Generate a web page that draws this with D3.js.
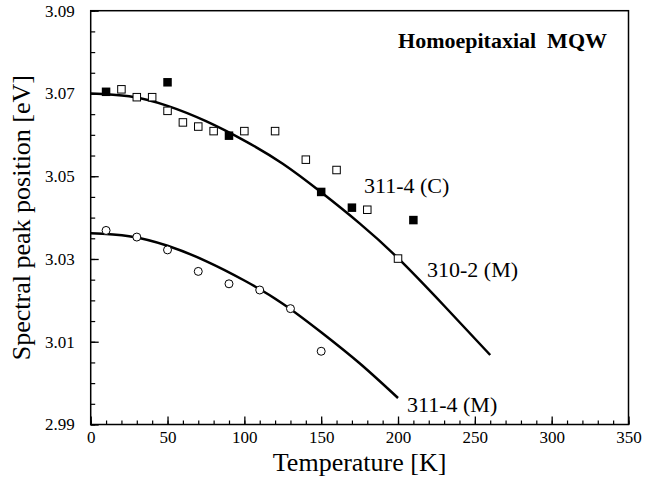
<!DOCTYPE html>
<html>
<head>
<meta charset="utf-8">
<script src="https://cdn.jsdelivr.net/npm/d3@7"></script>
<style>
  html, body { margin: 0; padding: 0; background: #fff; }
  svg { display: block; }
  text { font-family: "Liberation Serif", "Times New Roman", serif; fill: #000; }
</style>
</head>
<body>
<svg id="chart" width="652" height="486"></svg>
<script>
// Sample 311-4, CL measurements (filled squares)
const tempC = [10, 50, 90, 150, 170, 210];
const peakC = [3.0704, 3.0727, 3.0598, 3.0462, 3.0424, 3.0394];

// Sample 310-2, PL measurements (open squares)
const temp310 = [20, 30, 40, 50, 60, 70, 80, 100, 120, 140, 160, 180, 200];
const peak310 = [3.0710, 3.0691, 3.0691, 3.0658, 3.0630, 3.0620, 3.0609, 3.0609, 3.0609, 3.0540, 3.0515, 3.0419, 3.0301];

// Sample 311-4, PL measurements (open circles)
const temp311M = [10, 30, 50, 70, 90, 110, 130, 150];
const peak311M = [3.0369, 3.0353, 3.0322, 3.0270, 3.0240, 3.0225, 3.0180, 3.0077];

// Fitted temperature dependence, upper curve
const fitUpperT = [0, 25, 50, 75, 100, 125, 150, 175, 200, 230, 260];
const fitUpperE = [3.0700, 3.0693, 3.0670, 3.0633, 3.0586, 3.0530, 3.0461, 3.0386, 3.0302, 3.0187, 3.0068];

// Fitted temperature dependence, lower curve
const fitLowerT = [0, 25, 50, 75, 100, 125, 150, 175, 200];
const fitLowerE = [3.0362, 3.0355, 3.0332, 3.0295, 3.0248, 3.0192, 3.0123, 3.0048, 2.9964];

// Axis ticks
const xTicks = [0, 50, 100, 150, 200, 250, 300, 350];
const xMinorTicks = d3.range(0, 351, 10);
const yTicks = [2.99, 3.01, 3.03, 3.05, 3.07, 3.09];
const yTickLabels = ["2.99", "3.01", "3.03", "3.05", "3.07", "3.09"];
const yMinorTicks = d3.range(0, 21).map(i => 2.99 + i * 0.005);

const svg = d3.select("#chart");
const plotL = 90.7, plotR = 628.5, plotT = 10.7, plotB = 424.5;

const x = d3.scaleLinear().domain([0, 350]).range([plotL, plotR]);
const y = d3.scaleLinear().domain([2.99, 3.09]).range([plotB, plotT]);

// Minor ticks (inward, no labels)
svg.append("g")
  .attr("transform", `translate(0,${plotB})`)
  .call(d3.axisBottom(x).tickValues(xMinorTicks).tickSize(-4).tickFormat(""))
  .call(g => g.select(".domain").remove())
  .selectAll("line").attr("stroke", "#000").attr("stroke-width", 1.2);

svg.append("g")
  .attr("transform", `translate(${plotL},0)`)
  .call(d3.axisLeft(y).tickValues(yMinorTicks).tickSize(-4.5).tickFormat(""))
  .call(g => g.select(".domain").remove())
  .selectAll("line").attr("stroke", "#000").attr("stroke-width", 1.2);

// Major ticks with labels
const xAxis = svg.append("g")
  .attr("transform", `translate(0,${plotB})`)
  .call(d3.axisBottom(x).tickValues(xTicks).tickSize(-8).tickPadding(6).tickFormat(d3.format("d")));
xAxis.select(".domain").remove();
xAxis.selectAll("line").attr("stroke", "#000").attr("stroke-width", 1.3);
xAxis.selectAll("text")
  .attr("font-size", 17)
  .attr("font-family", "Liberation Serif, serif")
  .attr("fill", "#000");

const yAxis = svg.append("g")
  .attr("transform", `translate(${plotL},0)`)
  .call(d3.axisLeft(y).tickValues(yTicks).tickSize(-8).tickPadding(16)
    .tickFormat((d, i) => yTickLabels[i]));
yAxis.select(".domain").remove();
yAxis.selectAll("line").attr("stroke", "#000").attr("stroke-width", 1.3);
yAxis.selectAll("text")
  .attr("font-size", 17)
  .attr("font-family", "Liberation Serif, serif")
  .attr("fill", "#000");

// Plot frame
svg.append("rect")
  .attr("x", plotL).attr("y", plotT)
  .attr("width", plotR - plotL).attr("height", plotB - plotT)
  .attr("fill", "none").attr("stroke", "#000").attr("stroke-width", 1.5);

// Fit curves
const line = d3.line().x(d => x(d[0])).y(d => y(d[1])).curve(d3.curveNatural);
svg.append("path")
  .datum(fitUpperT.map((t, i) => [t, fitUpperE[i]]))
  .attr("d", line).attr("fill", "none").attr("stroke", "#000").attr("stroke-width", 2.5);
svg.append("path")
  .datum(fitLowerT.map((t, i) => [t, fitLowerE[i]]))
  .attr("d", line).attr("fill", "none").attr("stroke", "#000").attr("stroke-width", 2.5);

// Open squares (310-2)
const s = 7.5;
svg.append("g").selectAll("rect")
  .data(temp310.map((t, i) => [t, peak310[i]]))
  .join("rect")
  .attr("x", d => x(d[0]) - s / 2).attr("y", d => y(d[1]) - s / 2)
  .attr("width", s).attr("height", s)
  .attr("fill", "#fff").attr("stroke", "#000").attr("stroke-width", 1);

// Filled squares (311-4 C)
const sf = 8.5;
svg.append("g").selectAll("rect")
  .data(tempC.map((t, i) => [t, peakC[i]]))
  .join("rect")
  .attr("x", d => x(d[0]) - sf / 2).attr("y", d => y(d[1]) - sf / 2)
  .attr("width", sf).attr("height", sf)
  .attr("fill", "#000");

// Open circles (311-4 M)
svg.append("g").selectAll("circle")
  .data(temp311M.map((t, i) => [t, peak311M[i]]))
  .join("circle")
  .attr("cx", d => x(d[0])).attr("cy", d => y(d[1])).attr("r", 4)
  .attr("fill", "#fff").attr("stroke", "#000").attr("stroke-width", 1);

// Series labels
svg.append("text").attr("x", 364).attr("y", 193).attr("font-size", 22).text("311-4 (C)");
svg.append("text").attr("x", 427).attr("y", 277).attr("font-size", 22).text("310-2 (M)");
svg.append("text").attr("x", 407).attr("y", 412).attr("font-size", 22).text("311-4 (M)");

// Title inside plot
svg.append("text").attr("x", 607).attr("y", 48).attr("text-anchor", "end")
  .attr("font-size", 22).attr("font-weight", "bold")
  .text("Homoepitaxial\u00a0\u00a0MQW");

// Axis titles
svg.append("text").attr("x", (plotL + plotR) / 2).attr("y", 471)
  .attr("text-anchor", "middle").attr("font-size", 26).text("Temperature [K]");
svg.append("text")
  .attr("transform", `translate(30,${(plotT + plotB) / 2}) rotate(-90)`)
  .attr("text-anchor", "middle").attr("font-size", 26).text("Spectral peak position [eV]");
</script>
</body>
</html>
